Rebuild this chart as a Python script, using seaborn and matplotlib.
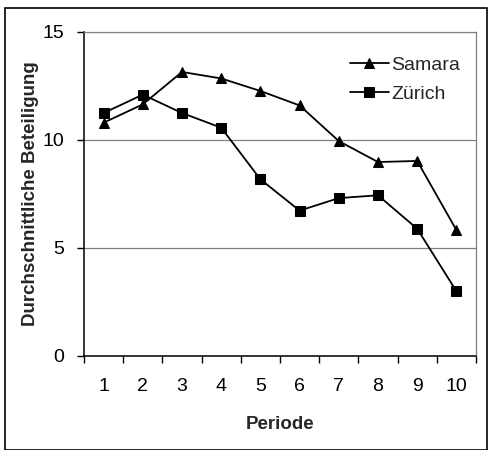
import matplotlib
matplotlib.use("Agg")
import matplotlib.pyplot as plt
import seaborn as sns
import pandas as pd
import numpy as np
from matplotlib.patches import Rectangle

periods = [1, 2, 3, 4, 5, 6, 7, 8, 9, 10]
samara = [10.8, 11.65, 13.15, 12.85, 12.27, 11.6, 9.95, 8.98, 9.03, 5.83]
zuerich = [11.25, 12.1, 11.25, 10.57, 8.18, 6.73, 7.31, 7.44, 5.89, 3.0]
tick_labels = [str(p) for p in periods]

sns.set_theme(style="white")
plt.rcParams['font.family'] = ['Liberation Sans', 'DejaVu Sans']

df = pd.DataFrame({
    "Periode": periods * 2,
    "Wert": samara + zuerich,
    "Stadt": ["Samara"] * 10 + ["Zürich"] * 10,
})

fig = plt.figure(figsize=(4.9, 4.5), dpi=100)
ax = fig.add_axes([84/490, 1 - 356/450, (476 - 84)/490, (356 - 32)/450])

sns.lineplot(data=df, x="Periode", y="Wert", style="Stadt",
             markers={"Samara": "^", "Zürich": "s"}, dashes=False,
             color="black", linewidth=1.3, markersize=7.5,
             markeredgecolor="black", ax=ax)

ax.set_xlim(0.5, 10.5)
ax.set_ylim(0, 15)
ax.set_yticks([0, 5, 10, 15])
ax.yaxis.grid(True, color="#808080", linewidth=0.9)
ax.set_axisbelow(True)

ax.set_xticks(np.arange(0.5, 11, 1))
ax.set_xticklabels([])
ax.set_xticks(periods, minor=True)
ax.set_xticklabels(tick_labels, minor=True)
ax.tick_params(axis="x", which="major", direction="out", length=5, width=1, color="black", bottom=True)
ax.tick_params(axis="x", which="minor", length=0, labelsize=14, pad=16, colors="black")
ax.tick_params(axis="y", direction="out", length=5, width=1, color="black", left=True,
               labelsize=14, pad=9, colors="black")

for side in ["top", "right"]:
    ax.spines[side].set_color("#808080")
    ax.spines[side].set_linewidth(0.9)
for side in ["left", "bottom"]:
    ax.spines[side].set_color("black")
    ax.spines[side].set_linewidth(1.1)

ax.set_xlabel("Periode", fontsize=13.5, fontweight="bold", labelpad=15)
ax.set_ylabel("Durchschnittliche Beteiligung", fontsize=13.5, fontweight="bold", labelpad=3)

leg = ax.legend(loc="upper right", bbox_to_anchor=(1.005, 0.98), frameon=False,
                fontsize=14, handlelength=2.0, handletextpad=0.15, labelspacing=0.6)

fig.patches.append(Rectangle((5/490, 0.0), 482/490, 1 - 8/450, transform=fig.transFigure,
                             fill=False, edgecolor="black", linewidth=1.2))

fig.savefig("out.png", dpi=100)
